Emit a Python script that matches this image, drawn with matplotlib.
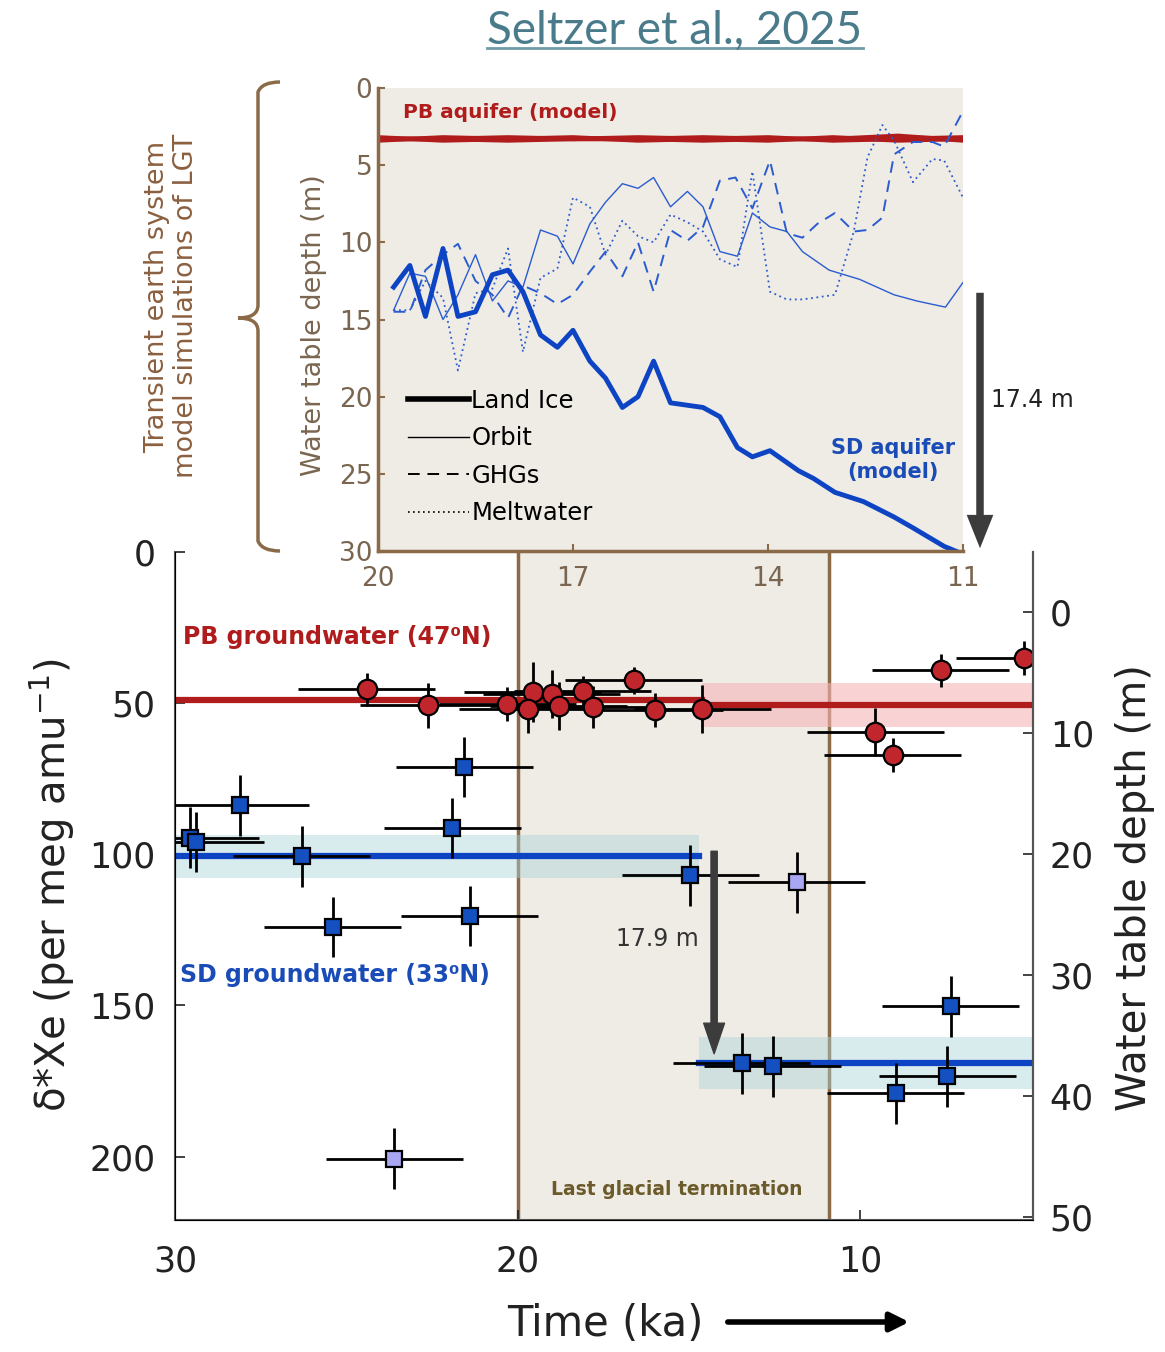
import numpy as np
import matplotlib.pyplot as plt
from matplotlib.lines import Line2D
from matplotlib.path import Path
from matplotlib.patches import PathPatch, FancyArrowPatch

plt.rcParams['font.family'] = ['DejaVu Sans']

# ---------------- top panel: model water table depth (m) vs time (ka) ----------------
# SD aquifer, land ice forcing
ice_age = [19.76, 19.51, 19.27, 19.0, 18.77, 18.5, 18.24, 18.0, 17.77, 17.5, 17.24, 17.0,
           16.74, 16.5, 16.24, 16.0, 15.76, 15.5, 15.0, 14.74, 14.47, 14.24, 13.97, 13.53,
           13.3, 12.97, 12.53, 12.06, 11.77, 11.29, 11.0]
ice_depth = [12.9, 11.5, 14.8, 10.4, 14.8, 14.5, 12.1, 11.8, 13.2, 16.0, 16.8, 15.7,
             17.7, 18.8, 20.7, 20.0, 17.7, 20.4, 20.7, 21.3, 23.3, 23.9, 23.5, 24.8,
             25.3, 26.2, 26.8, 27.8, 28.5, 29.7, 30.2]
# orbit forcing
orbit_age = [19.76, 19.51, 19.27, 19.0, 18.77, 18.5, 18.24, 18.0, 17.77, 17.5, 17.24, 17.0,
             16.74, 16.5, 16.24, 16.0, 15.76, 15.5, 15.24, 15.0, 14.74, 14.47, 14.24, 13.97,
             13.71, 13.47, 13.06, 12.59, 12.06, 11.71, 11.27, 11.0]
orbit_depth = [14.4, 12.0, 12.2, 15.0, 13.4, 10.8, 13.8, 12.5, 12.9, 9.2, 9.6, 11.4,
               8.8, 7.4, 6.2, 6.5, 5.8, 7.7, 6.7, 7.7, 10.6, 10.9, 8.1, 9.0,
               9.3, 10.6, 11.8, 12.4, 13.4, 13.8, 14.2, 12.6]
# GHG forcing
ghg_age = [19.76, 19.51, 19.27, 19.0, 18.77, 18.5, 18.24, 18.0, 17.77, 17.5, 17.24, 17.0,
           16.74, 16.5, 16.24, 16.0, 15.76, 15.5, 15.24, 15.0, 14.74, 14.5, 14.24, 13.97,
           13.71, 13.47, 13.24, 12.97, 12.68, 12.47, 12.24, 12.06, 11.77, 11.47, 11.29, 11.0]
ghg_depth = [14.5, 14.5, 11.8, 10.8, 10.1, 12.5, 13.4, 14.9, 12.8, 13.3, 14.0, 13.4,
             11.9, 10.6, 12.2, 10.0, 13.2, 9.2, 9.9, 9.0, 6.0, 5.8, 7.8, 4.7,
             9.4, 9.7, 8.8, 8.1, 9.3, 9.2, 8.4, 4.3, 3.5, 3.5, 3.8, 1.5]
# meltwater forcing
melt_age = [19.76, 19.51, 19.27, 19.0, 18.77, 18.5, 18.24, 18.0, 17.77, 17.5, 17.24, 17.0,
            16.74, 16.5, 16.24, 16.0, 15.76, 15.5, 15.24, 15.0, 14.74, 14.47, 14.24, 13.97,
            13.71, 13.47, 12.97, 12.68, 12.47, 12.24, 12.06, 11.77, 11.47, 11.29, 11.0]
melt_depth = [14.4, 14.4, 12.5, 13.6, 18.3, 13.3, 13.0, 10.4, 17.1, 12.3, 11.7, 7.1,
              7.7, 10.8, 8.6, 9.6, 10.0, 8.2, 8.7, 9.3, 11.1, 11.6, 5.4, 13.2,
              13.7, 13.7, 13.4, 9.3, 4.5, 2.4, 3.4, 6.1, 4.6, 4.7, 7.1]
# PB aquifer (all forcings sit near 3.3 m)
pb_model_age = [20, 19, 18, 17, 16, 15, 14, 13, 12, 11]
pb_model_runs = [
    [3.3, 3.3, 3.2, 3.3, 3.3, 3.4, 3.3, 3.3, 3.2, 3.3],
    [3.4, 3.2, 3.3, 3.2, 3.4, 3.3, 3.2, 3.4, 3.3, 3.2],
    [3.2, 3.4, 3.3, 3.3, 3.2, 3.3, 3.4, 3.2, 3.4, 3.3],
    [3.3, 3.3, 3.4, 3.3, 3.3, 3.2, 3.3, 3.3, 3.1, 3.4],
]

# ---------------- bottom panel: d*Xe data (per meg amu-1) ----------------
pb_age = [24.4, 22.6, 20.3, 19.55, 19.7, 19.0, 18.8, 18.1, 17.8, 16.6, 16.0, 14.6, 9.55, 9.05, 7.65, 5.2]
pb_xe = [45.4, 50.7, 50.3, 46.4, 52.0, 47.0, 51.0, 46.0, 51.3, 42.4, 52.3, 52.0, 59.6, 67.2, 39.1, 35.1]
pb_age_err = [2.0, 2.0, 2.0, 2.0, 2.0, 2.0, 2.0, 2.0, 2.0, 2.0, 2.0, 2.0, 2.0, 2.0, 2.0, 2.0]
pb_xe_err = [5.5, 7.5, 5.5, 10, 8, 8, 8, 5, 7, 4.5, 5.5, 8, 8, 5.5, 5.5, 5.5]

sd_age = [29.55, 29.4, 28.1, 26.3, 25.4, 21.55, 21.9, 21.4, 14.95, 13.45, 12.55, 8.95, 7.45, 7.35]
sd_xe = [94.5, 96.0, 83.8, 100.7, 124.0, 71.2, 91.4, 120.5, 107.0, 169.2, 170.2, 179.1, 173.5, 150.3]
sd_age_err = [2.0, 2.0, 2.0, 2.0, 2.0, 2.0, 2.0, 2.0, 2.0, 2.0, 2.0, 2.0, 2.0, 2.0]
sd_xe_err = [10, 10, 10, 10, 10, 10, 10, 10, 10, 10, 10, 10, 10, 10]

sd_out_age = [23.6, 11.85]
sd_out_xe = [200.7, 109.3]
sd_out_age_err = [2.0, 2.0]
sd_out_xe_err = [10, 10]

# glacial / holocene means and 1-sigma bands
pb_glac_age = [30, 14.6]
pb_glac_mean = 49.0
pb_holo_age = [14.6, 4.9]
pb_holo_mean = 50.7
pb_holo_band = [43.4, 58.0]
sd_glac_age = [30, 14.7]
sd_glac_mean = 100.7
sd_glac_band = [93.7, 108.0]
sd_holo_age = [14.7, 4.9]
sd_holo_mean = 169.2
sd_holo_band = [160.6, 177.5]

lgt_start, lgt_end = 20, 10.9

# ---------------- colours ----------------
beige = '#efebe5'
brown = '#8b6a48'
red = '#b01c1c'
blue = '#0d44c4'
thin_blue = '#2a5cd0'
grey = '#3c3c3c'

W, H = 1165, 1352
fig = plt.figure(figsize=(W / 100, H / 100), dpi=100)


def fx(px):
    return px / W


def fy(py):
    return 1 - py / H


# ================= bottom panel =================
ax = fig.add_axes([fx(175), fy(1220), fx(1033) - fx(175), fy(552) - fy(1220)])
ax.set_xlim(30, 4.95)
ax.set_ylim(221, 0)
ax.axvspan(lgt_start, lgt_end, color=beige, zorder=0, lw=0)
ax.axvline(lgt_start, color=brown, lw=2.5, zorder=1)
ax.axvline(lgt_end, color=brown, lw=2.5, zorder=1)

ax.fill_between(pb_holo_age, pb_holo_band[0], pb_holo_band[1], color='#f5b5b7', alpha=0.6, lw=0, zorder=2)
ax.fill_between(sd_glac_age, sd_glac_band[0], sd_glac_band[1], color='#a9d3d8', alpha=0.45, lw=0, zorder=2)
ax.fill_between(sd_holo_age, sd_holo_band[0], sd_holo_band[1], color='#a9d3d8', alpha=0.45, lw=0, zorder=2)
ax.plot(pb_glac_age, [pb_glac_mean, pb_glac_mean], color=red, lw=4.5, zorder=3)
ax.plot(pb_holo_age, [pb_holo_mean, pb_holo_mean], color=red, lw=4.5, zorder=3)
ax.plot(sd_glac_age, [sd_glac_mean, sd_glac_mean], color=blue, lw=4.5, zorder=3)
ax.plot(sd_holo_age, [sd_holo_mean, sd_holo_mean], color=blue, lw=4.5, zorder=3)

ebkw = dict(ecolor='k', elinewidth=2, capsize=0, mec='k', mew=1.6, ls='none', zorder=5)
ax.errorbar(pb_age, pb_xe, xerr=pb_age_err, yerr=pb_xe_err, fmt='o', ms=14, mfc='#c0262b', **ebkw)
ax.errorbar(sd_age, sd_xe, xerr=sd_age_err, yerr=sd_xe_err, fmt='s', ms=12, mfc='#1450c0', **ebkw)
ax.errorbar(sd_out_age, sd_out_xe, xerr=sd_out_age_err, yerr=sd_out_xe_err, fmt='s', ms=12, mfc='#a9a6f2', **ebkw)

ax.annotate('', xy=(14.26, 166), xytext=(14.26, 99),
            arrowprops=dict(facecolor=grey, edgecolor=grey, width=4.5, headwidth=15, headlength=22), zorder=6)
ax.text(14.7, 128, '17.9 m', ha='right', va='center', fontsize=17, color='#333333')

ax.text(29.77, 28, 'PB groundwater (47\u2070N)', color=red, fontsize=17, fontweight='bold',
        ha='left', va='center')
ax.text(29.85, 140, 'SD groundwater (33\u2070N)', color='#1a4cb8', fontsize=17, fontweight='bold',
        ha='left', va='center')
ax.text(15.35, 211, 'Last glacial termination', color='#6b5a2a', fontsize=13.5, fontweight='semibold',
        ha='center', va='center')

ax.set_xticks([30, 20, 10])
ax.set_yticks([0, 50, 100, 150, 200])
ax.tick_params(direction='in', length=7, width=1.2, labelsize=25, colors='#222222', pad=14)
ax.tick_params(axis='x', pad=18)
for s in ['left', 'bottom', 'right']:
    ax.spines[s].set_color('#555555')
    ax.spines[s].set_linewidth(1.5)
ax.spines['top'].set_visible(False)

ax2 = ax.twinx()
ax2.set_ylim(50.25, -5)
ax2.set_yticks([0, 10, 20, 30, 40, 50])
ax2.tick_params(direction='in', length=7, width=1.2, labelsize=25, colors='#222222', pad=12)
ax2.spines['top'].set_visible(False)
ax2.spines['right'].set_color('#555555')
ax2.spines['right'].set_linewidth(1.5)

fig.text(fx(52), fy(885), '\u03b4*Xe (per meg amu$^{-1}$)', rotation=90, fontsize=29,
         ha='center', va='center', color='#222222')
fig.text(fx(1135), fy(888), 'Water table depth (m)', rotation=90, fontsize=29,
         ha='center', va='center', color='#222222')
fig.text(fx(605), fy(1324), 'Time (ka)', fontsize=30, ha='center', va='center', color='#222222')
fig.add_artist(FancyArrowPatch(
    (fx(725), fy(1322)), (fx(912), fy(1322)), transform=fig.transFigure,
    arrowstyle='-|>', mutation_scale=28, lw=4, color='black'))

# ================= top panel =================
axt = fig.add_axes([fx(378), fy(551), fx(963) - fx(378), fy(88) - fy(551)])
axt.set_facecolor(beige)
axt.set_xlim(20, 11)
axt.set_ylim(30, 0)
for run in pb_model_runs:
    axt.plot(pb_model_age, run, color=red, lw=3.2)
axt.plot(orbit_age, orbit_depth, color=thin_blue, lw=1.0)
axt.plot(ghg_age, ghg_depth, color=thin_blue, lw=1.4, dashes=(6, 4))
axt.plot(melt_age, melt_depth, color=thin_blue, lw=1.3, dashes=(1, 2))
axt.plot(ice_age, ice_depth, color=blue, lw=3.5)

axt.text(19.62, 1.6, 'PB aquifer (model)', color=red, fontsize=14.5, fontweight='semibold',
         ha='left', va='center')
axt.text(12.08, 24.1, 'SD aquifer\n(model)', color='#1a4cb8', fontsize=15, fontweight='semibold',
         ha='center', va='center', linespacing=1.3)

handles = [Line2D([], [], color='k', lw=4), Line2D([], [], color='k', lw=1),
           Line2D([], [], color='k', lw=1.4, dashes=(6, 4)), Line2D([], [], color='k', lw=1.2, dashes=(1, 2))]
axt.legend(handles, ['Land Ice', 'Orbit', 'GHGs', 'Meltwater'], loc='lower left',
           bbox_to_anchor=(0.035, 0.035), frameon=False, fontsize=17.5, handlelength=2.5,
           handletextpad=0.1, labelspacing=0.55, borderaxespad=0)

axt.set_xticks([20, 17, 14, 11])
axt.set_yticks([0, 5, 10, 15, 20, 25, 30])
axt.tick_params(direction='in', length=5, width=1.5, colors=brown, labelsize=19,
                labelcolor='#7a6650')
axt.tick_params(axis='x', pad=11)
axt.tick_params(axis='y', pad=4)
axt.spines['top'].set_visible(False)
axt.spines['right'].set_visible(False)
for s in ['left', 'bottom']:
    axt.spines[s].set_color(brown)
    axt.spines[s].set_linewidth(2.5)
axt.set_ylabel('Water table depth (m)', fontsize=19.5, color='#7a6650')
axt.yaxis.set_label_coords(-0.088, (551 - 325) / 463)

# 17.4 m arrow outside top panel
fig.add_artist(FancyArrowPatch(
    (fx(980), fy(290)), (fx(980), fy(551)), transform=fig.transFigure,
    arrowstyle='simple,head_width=1.6,head_length=2.0,tail_width=0.45', mutation_scale=12,
    color=grey, lw=0))
fig.text(fx(991), fy(400), '17.4 m', fontsize=17, color='#222222', ha='left', va='center')

# curly bracket and its label
bx = [280, 262, 258, 258, 258, 238, 258, 258, 258, 262, 280]
by = [82, 82, 92, 305, 318, 318, 318, 331, 541, 551, 551]
codes = [Path.MOVETO, Path.CURVE3, Path.CURVE3, Path.LINETO, Path.CURVE3, Path.CURVE3,
         Path.CURVE3, Path.CURVE3, Path.LINETO, Path.CURVE3, Path.CURVE3]
brace = Path([(fx(a), fy(b)) for a, b in zip(bx, by)], codes)
fig.add_artist(PathPatch(brace, transform=fig.transFigure, fill=False, ec=brown, lw=2.5))
fig.text(fx(157), fy(297), 'Transient earth system', rotation=90, fontsize=19.5,
         color='#8b6040', ha='center', va='center', fontweight='medium')
fig.text(fx(186), fy(306), 'model simulations of LGT', rotation=90, fontsize=19.5,
         color='#8b6040', ha='center', va='center', fontweight='medium')

# title with underline
title = fig.text(fx(675), fy(31), 'Seltzer et al., 2025', fontsize=33, color='#4a7b8b',
                 ha='center', va='center', family=['Lato', 'DejaVu Sans'])
fig.canvas.draw()
bb = title.get_window_extent().transformed(fig.transFigure.inverted())
fig.add_artist(Line2D([bb.x0, bb.x1], [bb.y0 + 0.003, bb.y0 + 0.003], transform=fig.transFigure,
                      color='#6f9aa7', lw=2))

fig.savefig('out.png', dpi=100)
